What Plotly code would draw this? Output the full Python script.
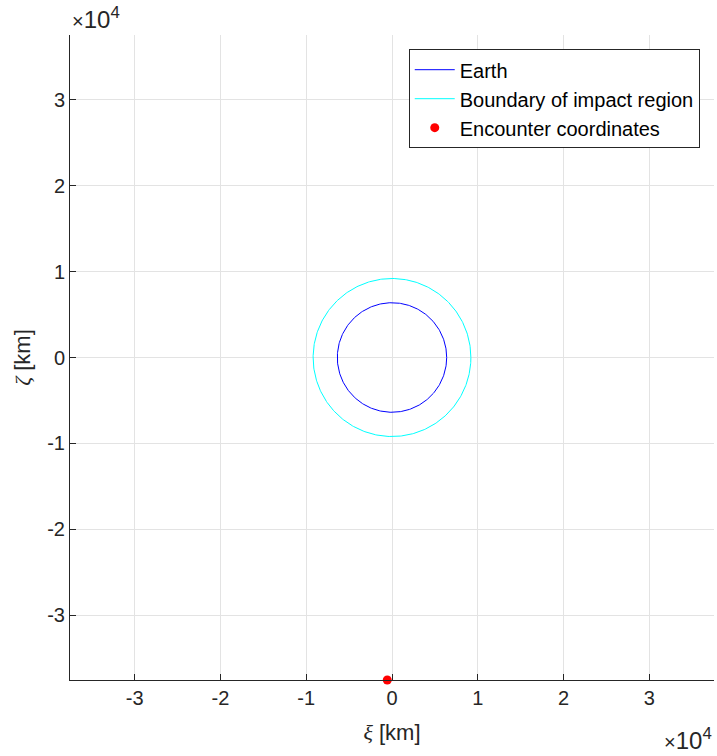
import numpy as np
import plotly.graph_objects as go

# Data
earth_radius_km = 6378.0
impact_radius_km = 9200.0
encounter_xi = [-550.0]
encounter_zeta = [-37550.0]
axis_limit = 37550.0
tick_values = [-30000, -20000, -10000, 0, 10000, 20000, 30000]
tick_labels = ["-3", "-2", "-1", "0", "1", "2", "3"]

theta = np.linspace(0, 2 * np.pi, 400)

fig = go.Figure()
fig.add_trace(go.Scatter(
    x=earth_radius_km * np.cos(theta), y=earth_radius_km * np.sin(theta),
    mode="lines", line=dict(color="#0000ff", width=1), name="Earth"))
fig.add_trace(go.Scatter(
    x=impact_radius_km * np.cos(theta), y=impact_radius_km * np.sin(theta),
    mode="lines", line=dict(color="#00ffff", width=1), name="Boundary of impact region"))
fig.add_trace(go.Scatter(
    x=encounter_xi, y=encounter_zeta, mode="markers",
    marker=dict(color="#ff0000", size=9), name="Encounter coordinates",
    cliponaxis=False))

font_main = "Liberation Sans, Arial, sans-serif"
axis_common = dict(
    range=[-axis_limit, axis_limit], tickvals=tick_values, ticktext=tick_labels,
    showgrid=True, gridcolor="#e3e3e3", gridwidth=1,
    zeroline=False, showline=True, linecolor="#262626", linewidth=1,
    ticks="inside", ticklen=6, tickcolor="#262626",
    tickfont=dict(family=font_main, size=20, color="#262626"),
    mirror=False,
)

fig.update_layout(
    width=717, height=756,
    margin=dict(l=70, r=3, t=35, b=76),
    paper_bgcolor="white", plot_bgcolor="white",
    font=dict(family=font_main, size=20, color="#262626"),
    xaxis=dict(**axis_common,
               title=dict(text="<span style=\"font-family:'Liberation Serif'\"><i>ξ</i></span> [km]",
                          font=dict(size=22, color="#262626"), standoff=16)),
    yaxis=dict(**axis_common,
               title=dict(text="<span style=\"font-family:'Liberation Serif'\"><i>ζ</i></span> [km]",
                          font=dict(size=22, color="#262626"), standoff=10)),
    legend=dict(x=0.526, y=0.978, xanchor="left", yanchor="top",
                bgcolor="white", bordercolor="#262626", borderwidth=1,
                font=dict(family=font_main, size=20, color="#000000"),
                tracegroupgap=0, itemwidth=40),
    showlegend=True,
    annotations=[
        dict(text="<span style='font-size:20px'>×</span>10<sup>4</sup>", xref="paper", yref="paper", x=0.0, y=1.0,
             xanchor="left", yanchor="bottom", showarrow=False, yshift=0,
             font=dict(family=font_main, size=24, color="#262626")),
        dict(text="<span style='font-size:20px'>×</span>10<sup>4</sup>", xref="paper", yref="paper", x=1.0, y=0.0,
             xanchor="right", yanchor="top", showarrow=False, yshift=-42,
             font=dict(family=font_main, size=24, color="#262626")),
    ],
)

fig.write_html("out.html")
